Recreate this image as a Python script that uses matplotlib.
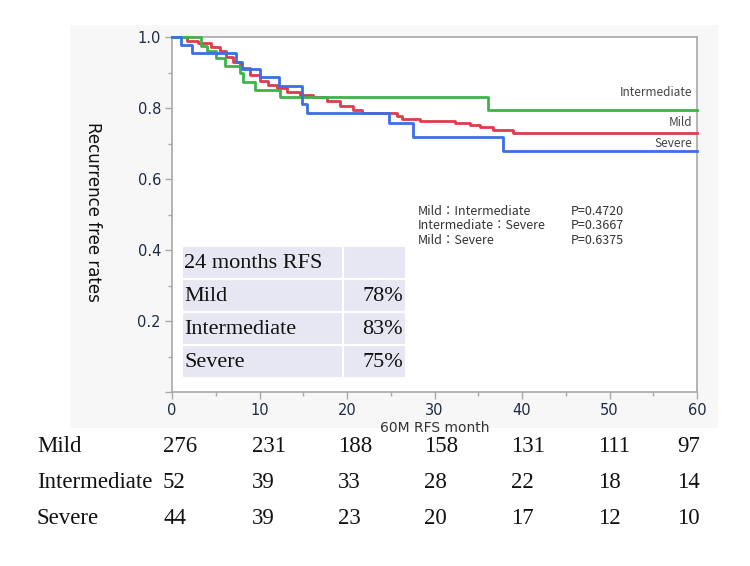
import matplotlib.pyplot as plt
from matplotlib.patches import Rectangle

# ---------------- data ----------------
mild_t = [0, 1.7, 3.0, 4.5, 5.5, 6.2, 7.0, 7.8, 8.9, 10.0, 11.0, 12.0, 13.1, 14.6,
          16.1, 17.7, 19.2, 20.7, 21.7, 25.7, 26.3, 28.3, 32.3, 34.1, 35.2, 36.7, 39.0, 60]
mild_s = [1.0, 0.99, 0.982, 0.973, 0.96, 0.945, 0.93, 0.912, 0.893, 0.875, 0.865, 0.855,
          0.846, 0.837, 0.83, 0.82, 0.806, 0.795, 0.786, 0.777, 0.768, 0.762, 0.757,
          0.752, 0.746, 0.738, 0.73, 0.73]

inter_t = [0, 3.3, 4.0, 5.0, 6.1, 7.8, 8.1, 9.5, 12.3, 36.1, 60]
inter_s = [1.0, 0.975, 0.96, 0.94, 0.918, 0.90, 0.874, 0.85, 0.83, 0.795, 0.795]

sev_t = [0, 1.0, 2.3, 7.3, 8.0, 10.0, 12.2, 14.9, 15.4, 24.8, 27.5, 37.8, 60]
sev_s = [1.0, 0.977, 0.955, 0.93, 0.91, 0.887, 0.862, 0.81, 0.786, 0.757, 0.718, 0.68, 0.68]

groups = ["Mild", "Intermediate", "Severe"]
end_label_y = [0.76, 0.845, 0.70]

p_pairs = ["Mild：Intermediate", "Intermediate：Severe", "Mild：Severe"]
p_values = ["P=0.4720", "P=0.3667", "P=0.6375"]

rfs_header = "24 months RFS"
rfs_values = ["78%", "83%", "75%"]

risk_mild = [276, 231, 188, 158, 131, 111, 97]
risk_inter = [52, 39, 33, 28, 22, 18, 14]
risk_sev = [44, 39, 23, 20, 17, 12, 10]

# ---------------- style ----------------
W, H = 750, 566
RED = "#dc3c4c"
GREEN = "#3cb449"
BLUE = "#3b6fe6"
TICK_COL = "#1f2a44"
SPINE_COL = "#a8a8a8"
LAVENDER = "#e6e7f3"
JP = ["Noto Sans CJK JP", "DejaVu Sans"]
SERIF = "Liberation Serif"


def fx(px):
    return px / W


def fy(py):
    return 1 - py / H


fig = plt.figure(figsize=(7.5, 5.66), dpi=100)
fig.patch.set_facecolor("white")

# grey report panel behind the plot
fig.patches.append(Rectangle((fx(70), fy(428)), fx(718) - fx(70), fy(25) - fy(428),
                             transform=fig.transFigure, facecolor="#f7f7f7",
                             edgecolor="none", zorder=-5))

ax = fig.add_axes([fx(172), fy(392), fx(697) - fx(172), fy(37) - fy(392)])
ax.set_zorder(1)
ax.set_facecolor("white")

for t, s, c in [(mild_t, mild_s, RED), (inter_t, inter_s, GREEN), (sev_t, sev_s, BLUE)]:
    ax.step(t, s, where="post", color=c, lw=2.0, clip_on=False, zorder=3)

ax.set_xlim(0, 60)
ax.set_ylim(0, 1.0)
ax.set_xticks(range(0, 61, 10))
ax.set_xticks(range(5, 60, 10), minor=True)
ax.set_yticks([0, 0.2, 0.4, 0.6, 0.8, 1.0])
ax.set_yticklabels(["", "0.2", "0.4", "0.6", "0.8", "1.0"])
ax.set_yticks([0.1, 0.3, 0.5, 0.7, 0.9], minor=True)
ax.tick_params(which="major", length=5, width=1, color=SPINE_COL,
               labelcolor=TICK_COL, labelsize=10.5, pad=3)
ax.tick_params(which="minor", length=3, width=1, color=SPINE_COL)
for sp in ax.spines.values():
    sp.set_color(SPINE_COL)
    sp.set_linewidth(1.2)

ax.set_xlabel("60M RFS month", fontsize=10, color="#333333", labelpad=2)
fig.text(fx(93), fy(212), "Recurrence free rates", rotation=270, fontsize=12,
         ha="center", va="center", color="#111111")

# curve labels at right end
for name, yy in zip(groups, end_label_y):
    ax.text(59.5, yy, name, ha="right", va="center", fontsize=8.5,
            family=JP, color="#444444")

# pairwise log-rank p values
for i, (pair, pv) in enumerate(zip(p_pairs, p_values)):
    yy = 0.508 - i * 0.04
    ax.text(28.1, yy, pair, fontsize=9, family=JP, color="#333333", va="center")
    ax.text(45.6, yy, pv, fontsize=9, family=JP, color="#333333", va="center")

# 24 months RFS table
tab_left, tab_mid, tab_right = 182, 343, 406
row_top = 246
row_h = 33
rows = [(rfs_header, "")] + list(zip(groups, rfs_values))
for i, (lab, val) in enumerate(rows):
    y0 = row_top + i * row_h
    for x0, x1 in [(tab_left, tab_mid), (tab_mid, tab_right)]:
        fig.patches.append(Rectangle((fx(x0), fy(y0 + row_h)), fx(x1) - fx(x0),
                                     fy(y0) - fy(y0 + row_h), transform=fig.transFigure,
                                     facecolor=LAVENDER, edgecolor="white", lw=1.5,
                                     zorder=5))
    fig.text(fx(tab_left + 2), fy(y0 + row_h / 2 + 1), lab, family=SERIF, fontsize=16,
             va="center", ha="left", color="#111111", zorder=6)
    if val:
        fig.text(fx(tab_right - 3), fy(y0 + row_h / 2 + 1), val, family=SERIF,
                 fontsize=16, va="center", ha="right", color="#111111", zorder=6)

# number at risk
col_x = [163, 252, 338, 424, 511, 598, 677]
row_y = [447, 483, 519]
for name, counts, yy in zip(groups, [risk_mild, risk_inter, risk_sev], row_y):
    fig.text(fx(37), fy(yy), name, family=SERIF, fontsize=16.5, va="center",
             ha="left", color="#111111")
    for xx, n in zip(col_x, counts):
        fig.text(fx(xx), fy(yy), str(n), family=SERIF, fontsize=16.5, va="center",
                 ha="left", color="#111111")

fig.savefig("out.png", dpi=100)
